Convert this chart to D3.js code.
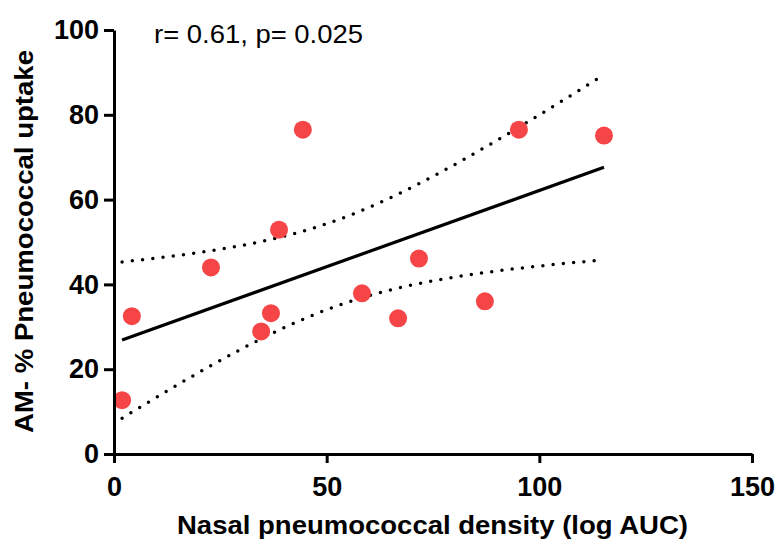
<!DOCTYPE html>
<html>
<head>
  <meta charset="utf-8">
  <style>
    body { margin: 0; background: #fff; }
    text { font-family: "Liberation Sans", Arial, Helvetica, sans-serif; }
    .axis path, .axis line { stroke: #000; stroke-width: 3; }
    .axis text { font-size: 27px; font-weight: bold; fill: #000; }
    .dot { fill: #f64547; }
  </style>
</head>
<body>
  <script src="https://d3js.org/d3.v7.min.js"></script>
  <svg width="776" height="539"></svg>

  <script>
    // values
    var density = [1.9, 4.2, 22.8, 34.6, 36.9, 38.8, 44.4, 58.3, 66.8, 71.7, 87.2, 95.2, 115.2];
    var uptake  = [12.7, 32.5, 44.0, 28.9, 33.2, 52.9, 76.5, 37.9, 32.0, 46.1, 36.0, 76.5, 75.1];
    var xTicks = [0, 50, 100, 150];
    var yTicks = [0, 20, 40, 60, 80, 100];
    var statsLabel = "r= 0.61, p= 0.025";

    var svg = d3.select("svg"),
        margin = {top: 30, right: 24, bottom: 85, left: 114},
        width = +svg.attr("width") - margin.left - margin.right,
        height = +svg.attr("height") - margin.top - margin.bottom;

    var x = d3.scaleLinear().domain([0, 150]).range([0, width]),
        y = d3.scaleLinear().domain([0, 100]).range([height, 0]);

    var g = svg.append("g")
        .attr("transform", "translate(" + margin.left + "," + margin.top + ")");

    /* linear fit with 95% confidence band (t for 11 df) */
    var n = density.length,
        mx = d3.mean(density), my = d3.mean(uptake),
        sxx = d3.sum(density, function(d) { return (d - mx) * (d - mx); }),
        sxy = d3.sum(density, function(d, i) { return (d - mx) * (uptake[i] - my); }),
        slope = sxy / sxx,
        icpt = my - slope * mx,
        ssr = d3.sum(density, function(d, i) { var e = uptake[i] - (icpt + slope * d); return e * e; }),
        se = Math.sqrt(ssr / (n - 2)),
        tcrit = 2.201;

    var x0 = d3.min(density), x1 = d3.max(density);
    var xs = d3.range(0, 61).map(function(i) { return x0 + (x1 - x0) * i / 60; });
    function half(v) { return tcrit * se * Math.sqrt(1 / n + (v - mx) * (v - mx) / sxx); }

    var line = d3.line()
        .x(function(d) { return x(d[0]); })
        .y(function(d) { return y(d[1]); });

    g.append("path")
      .datum(xs.map(function(v) { return [v, icpt + slope * v + half(v)]; }))
      .attr("d", line)
      .attr("fill", "none").attr("stroke", "#000")
      .attr("stroke-width", 3.5).attr("stroke-linecap", "round")
      .attr("stroke-dasharray", "0 10.3");

    g.append("path")
      .datum(xs.map(function(v) { return [v, icpt + slope * v - half(v)]; }))
      .attr("d", line)
      .attr("fill", "none").attr("stroke", "#000")
      .attr("stroke-width", 3.5).attr("stroke-linecap", "round")
      .attr("stroke-dasharray", "0 10.3");

    g.append("path")
      .datum([[x0, icpt + slope * x0], [x1, icpt + slope * x1]])
      .attr("d", line)
      .attr("fill", "none").attr("stroke", "#000").attr("stroke-width", 3.2);

    g.selectAll(".dot")
      .data(density)
      .enter().append("circle")
      .attr("class", "dot")
      .attr("cx", function(d) { return x(d); })
      .attr("cy", function(d, i) { return y(uptake[i]); })
      .attr("r", 9);

    g.append("g")
      .attr("class", "axis")
      .attr("transform", "translate(0," + height + ")")
      .call(d3.axisBottom(x).tickValues(xTicks).tickSize(9).tickSizeOuter(0).tickPadding(14));

    g.append("g")
      .attr("class", "axis")
      .call(d3.axisLeft(y).tickValues(yTicks).tickSize(10).tickSizeOuter(0).tickPadding(5));

    svg.append("text")
      .attr("x", 177).attr("y", 534)
      .attr("textLength", 511).attr("lengthAdjust", "spacingAndGlyphs")
      .style("font-size", "25px").style("font-weight", "bold")
      .text("Nasal pneumococcal density (log AUC)");

    svg.append("text")
      .attr("transform", "translate(33,433) rotate(-90)")
      .attr("textLength", 383).attr("lengthAdjust", "spacingAndGlyphs")
      .style("font-size", "25px").style("font-weight", "bold")
      .text("AM- % Pneumococcal uptake");

    svg.append("text")
      .attr("x", 154).attr("y", 43)
      .attr("textLength", 209).attr("lengthAdjust", "spacingAndGlyphs")
      .style("font-size", "25px")
      .text(statsLabel);
  </script>
</body>
</html>
